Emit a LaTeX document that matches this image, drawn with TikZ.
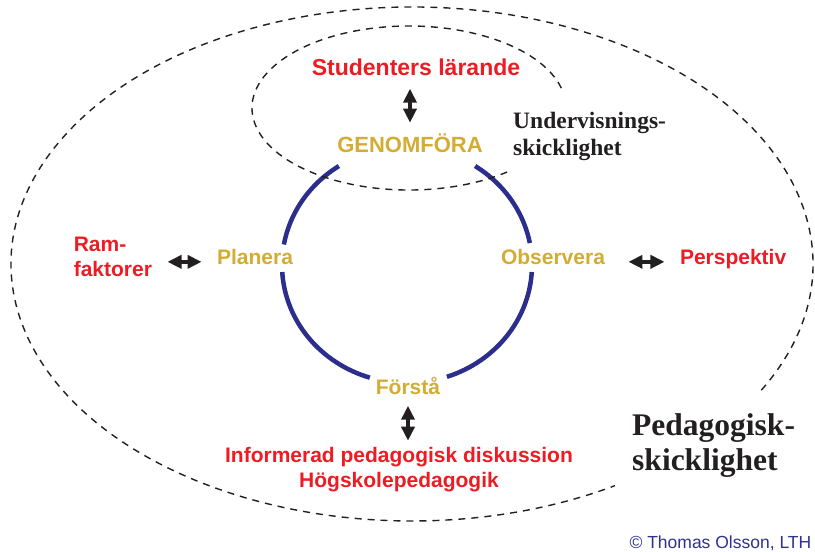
\documentclass[tikz,border=0pt]{standalone}
\usepackage{fontspec}
\usepackage{tikz}
\usetikzlibrary{arrows.meta,positioning}
\newfontfamily\lblfont{Liberation Sans}
\newfontfamily\skillfont{Liberation Serif}
\definecolor{stagegold}{RGB}{212,172,52}
\definecolor{goalred}{RGB}{237,28,36}
\definecolor{ringblue}{RGB}{43,46,140}
\definecolor{copyblue}{RGB}{46,49,146}
\definecolor{inkdark}{RGB}{35,31,32}
\tikzset{
  stage/.style={font=\lblfont\bfseries\fontsize{21}{24}\selectfont, text=stagegold, anchor=base},
  goal/.style={font=\lblfont\bfseries\fontsize{21}{25}\selectfont, text=goalred, align=center},
  skill/.style={font=\skillfont\bfseries, text=inkdark, align=left, anchor=base west},
  ring/.style={ringblue, line width=4.5pt},
  zone/.style={inkdark, line width=1.4pt, dash pattern=on 7pt off 6pt},
  link/.style={{Triangle[length=14pt,width=13pt]}-{Triangle[length=14pt,width=13pt]}, line width=3.5pt, inkdark}
}

\begin{document}
\begin{tikzpicture}[x=1pt, y=1pt]

  \useasboundingbox (0,0) rectangle (815,-552);

  % Nodes
  \node[stage, font=\lblfont\bfseries\fontsize{22}{24}\selectfont] (genomfora) at (410,-152) {GENOMFÖRA};
  \node[stage] (planera)   at (255,-264) {Planera};
  \node[stage] (observera) at (553,-264) {Observera};
  \node[stage] (forsta)    at (408,-394) {Förstå};

  \node[goal, font=\lblfont\bfseries\fontsize{23}{26}\selectfont, above=50pt of genomfora, xshift=6pt] (studenter) {Studenters lärande};
  \node[goal, align=left, left=58pt of planera] (ramfaktorer) {Ram-\\faktorer};
  \node[goal, base right=68pt of observera] (perspektiv) {Perspektiv};
  \node[goal, below=46pt of forsta, xshift=-9pt] (informerad) {Informerad pedagogisk diskussion\\Högskolepedagogik};

  \node[skill, font=\skillfont\bfseries\fontsize{23.5}{27}\selectfont] (undervisning) at (509.7,-155) {Undervisnings-\\skicklighet};
  \node[skill, font=\skillfont\bfseries\fontsize{31.5}{35}\selectfont] (pedagogisk) at (628.7,-470) {Pedagogisk-\\skicklighet};
  \node[font=\lblfont\fontsize{17.5}{20}\selectfont, text=copyblue, anchor=base west] (credit) at (626,-548) {© Thomas Olsson, LTH};

  % Ring
  \coordinate (ringc) at (407,-265);
  \foreach \from/\to in {10.7/57, 123/170, 183.4/252.7, 288.6/356.6}
    \draw[ring] (ringc) ++(\from:125 and 118) arc[start angle=\from, end angle=\to, x radius=125, y radius=118];

  % Zones
  \draw[zone] (409,-108) ++(14:157 and 82) arc[start angle=14, end angle=311, x radius=157, y radius=82];
  \draw[zone] (412,-264) ++(-29.4:401 and 257) arc[start angle=-29.4, end angle=300.4, x radius=401, y radius=257];

  % Edges
  \draw[link, shorten <=9pt, shorten >=7pt] (genomfora.north |- studenter.south) -- (genomfora.north);
  \draw[link, shorten <=12pt, shorten >=12pt] (ramfaktorer.east |- planera.mid west) -- (planera.mid west);
  \draw[link, shorten <=20pt, shorten >=12pt] (observera.mid east) -- (perspektiv.mid west);
  \draw[link, shorten <=8pt, shorten >=3pt] (forsta.south) -- (forsta.south |- informerad.north);

\end{tikzpicture}
\end{document}
